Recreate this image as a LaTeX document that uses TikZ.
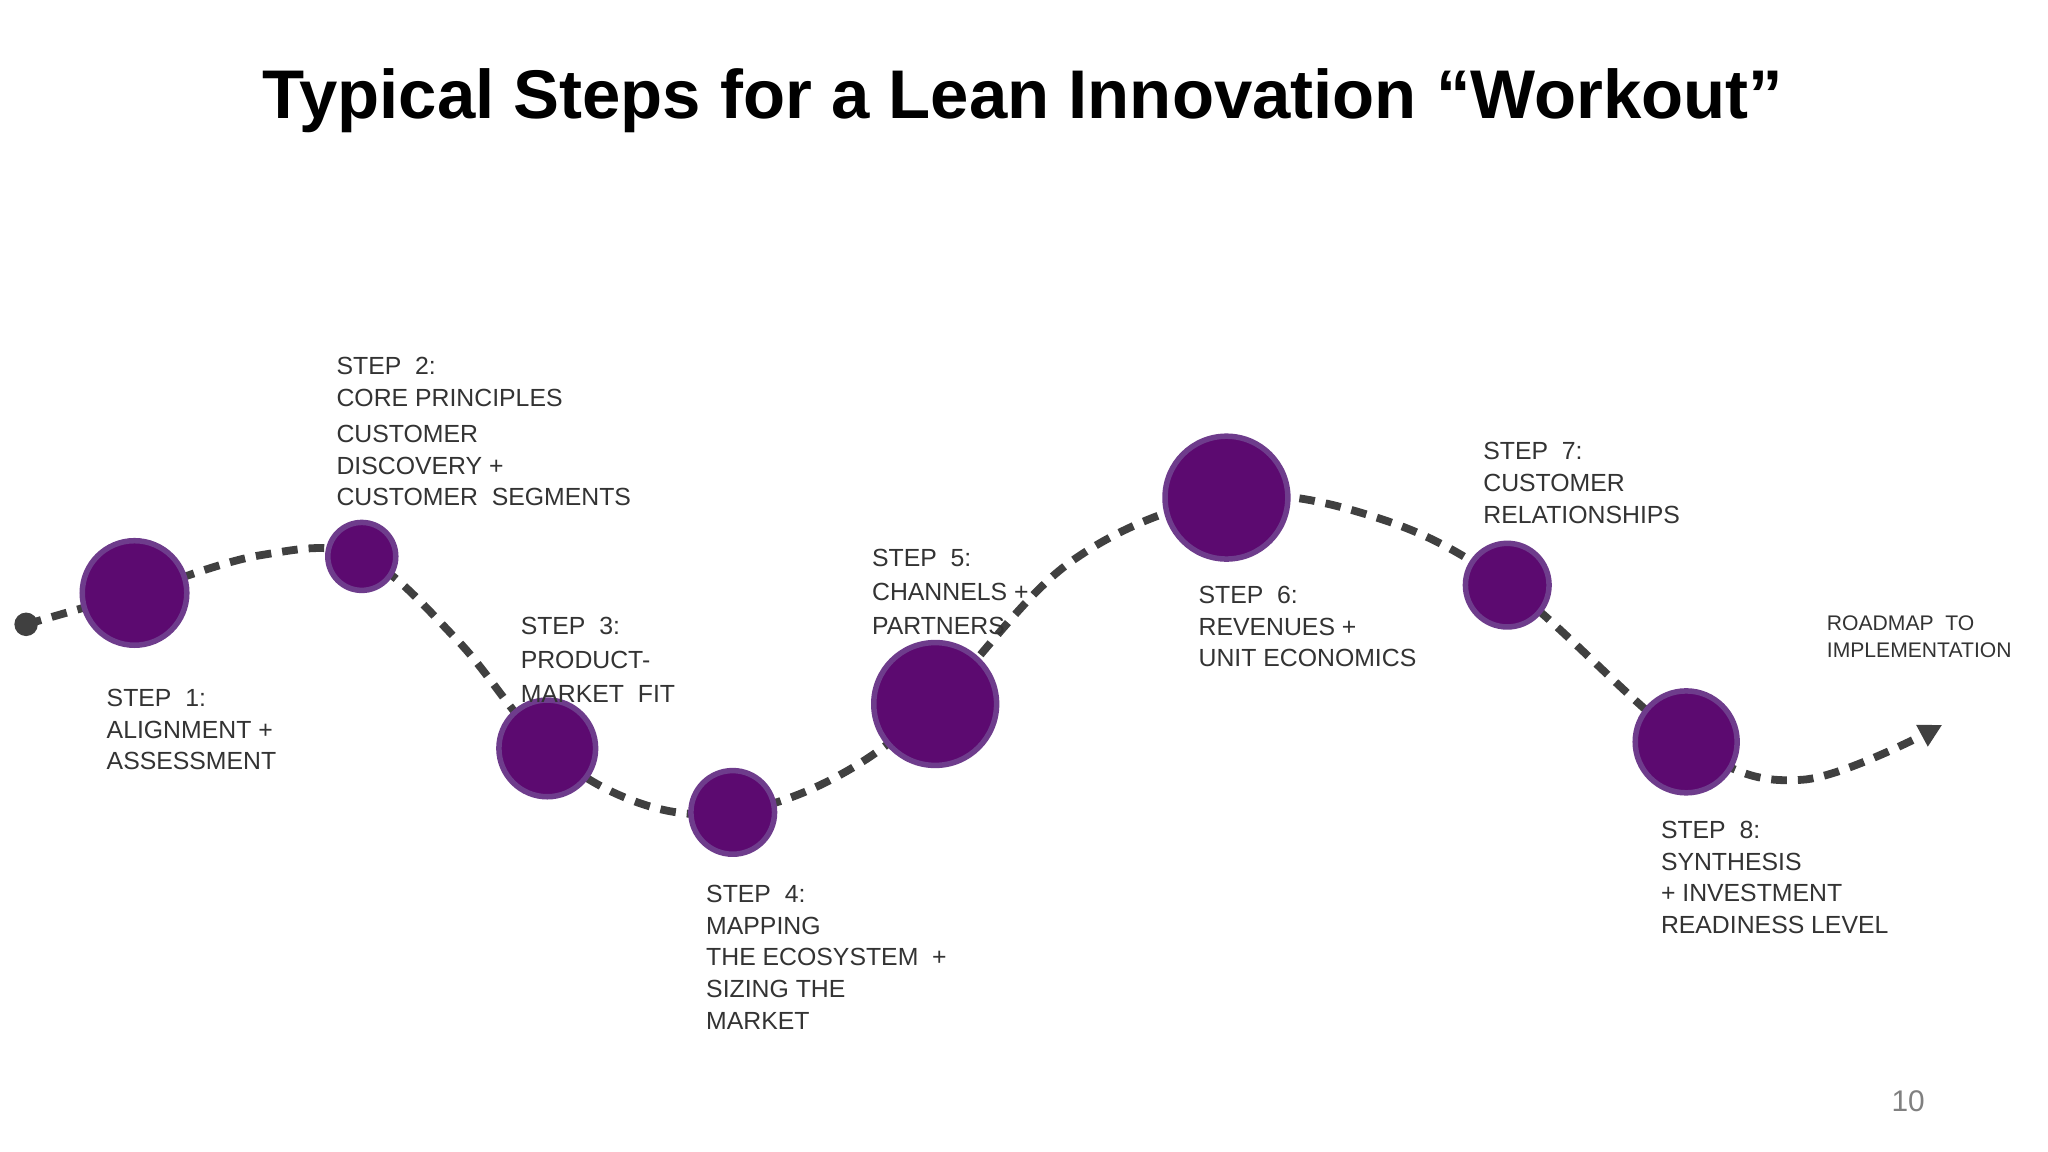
\documentclass[tikz,border=0pt]{standalone}
\usepackage{fontspec}
\setmainfont{Liberation Sans}
\usetikzlibrary{arrows.meta}
\definecolor{pur}{HTML}{5C0A70}
\definecolor{purb}{HTML}{6E3C8C}
\definecolor{txt}{HTML}{333333}
\definecolor{dsh}{HTML}{404040}
\tikzset{
 stepdot/.style={circle,fill=pur,draw=purb,line width=1.2pt,inner sep=0pt},
 lbl/.style={anchor=north west,inner sep=0pt,align=left,text=txt,font=\fontsize{5.4}{6.9}\selectfont},
 pathline/.style={dsh,line width=1.7pt,dash pattern=on 3.4pt off 2.4pt}
}
\begin{document}
\begin{tikzpicture}[x=0.01cm,y=-0.01cm]
\useasboundingbox (0,0) rectangle (1568,882);
\fill[white] (0,0) rectangle (1568,882);
\node[font=\bfseries\fontsize{15}{18}\selectfont] (title) at (783,77) {Typical Steps for a Lean Innovation “Workout”};
\draw[pathline,-{Triangle[length=5pt,width=5pt]}] plot[smooth,tension=0.6] coordinates {(20,478) (103,454) (200,425) (277,426) (350,490) (419,573) (490,615) (561,622) (640,595) (716,539) (820,430) (939,381) (1050,395) (1154,448) (1291,568) (1380,597) (1487,555)};
\fill[dsh] (20,478) circle (9) node (start) {};
\node[stepdot,minimum size=0.80cm] (s1) at (103,454) {};
\node[stepdot,minimum size=0.52cm] (s2) at (277,426) {};
\node[stepdot,minimum size=0.74cm] (s3) at (419,573) {};
\node[stepdot,minimum size=0.64cm] (s4) at (561,622) {};
\node[stepdot,minimum size=0.94cm] (s5) at (716,539) {};
\node[stepdot,minimum size=0.94cm] (s6) at (939,381) {};
\node[stepdot,minimum size=0.64cm] (s7) at (1154,448) {};
\node[stepdot,minimum size=0.78cm] (s8) at (1291,568) {};
\node[lbl] (l1) at (81,527) {STEP\ \ 1:\\ALIGNMENT +\\ASSESSMENT};
\node[lbl] (l2) at (257,273) {STEP\ \ 2:\\CORE PRINCIPLES\\[0.9pt]CUSTOMER\\DISCOVERY +\\CUSTOMER\ \ SEGMENTS};
\node[lbl,font=\fontsize{5.4}{7.4}\selectfont] (l3) at (398,472) {STEP\ \ 3:\\PRODUCT-\\MARKET\ \ FIT};
\node[lbl] (l4) at (540,677) {STEP\ \ 4:\\MAPPING\\THE ECOSYSTEM\ \ +\\SIZING THE\\MARKET};
\node[lbl,font=\fontsize{5.4}{7.4}\selectfont] (l5) at (667,420) {STEP\ \ 5:\\CHANNELS +\\PARTNERS};
\node[lbl] (l6) at (917,448) {STEP\ \ 6:\\REVENUES +\\UNIT ECONOMICS};
\node[lbl] (l7) at (1135,338) {STEP\ \ 7:\\CUSTOMER\\RELATIONSHIPS};
\node[lbl,font=\fontsize{4.6}{5.7}\selectfont] (lr) at (1398,471) {ROADMAP\ \ TO\\IMPLEMENTATION};
\node[lbl] (l8) at (1271,628) {STEP\ \ 8:\\SYNTHESIS\\+ INVESTMENT\\READINESS LEVEL};
\node[text=gray,font=\fontsize{6.5}{8}\selectfont] (pg) at (1461,843) {10};
\end{tikzpicture}
\end{document}
